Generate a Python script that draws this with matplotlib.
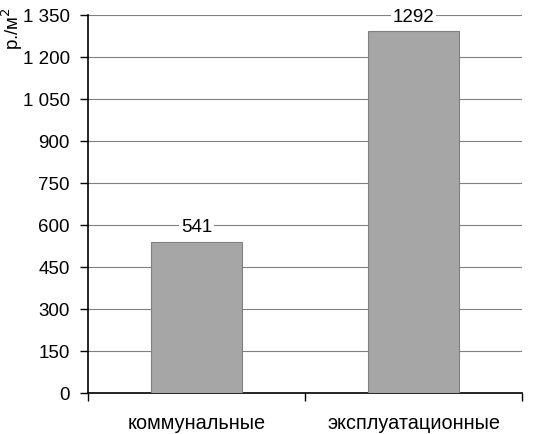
import matplotlib.pyplot as plt
from matplotlib.ticker import FuncFormatter, FixedLocator

categories = ["коммунальные", "эксплуатационные"]
values = [541, 1292]
y_ticks = [0, 150, 300, 450, 600, 750, 900, 1050, 1200, 1350]

plt.rcParams["font.family"] = ["Liberation Sans", "DejaVu Sans"]

fig = plt.figure(figsize=(5.34, 4.34), dpi=100)
ax = fig.add_axes([88 / 534, 1 - 393 / 434, (522 - 88) / 534, (393 - 15) / 434])

x = list(range(len(categories)))
ax.bar(x, values, width=0.42, color="#a6a6a6", edgecolor="#808080", linewidth=0.8, zorder=3)

for xi, v in zip(x, values):
    ax.text(xi, v + 20, str(v), ha="center", va="bottom", fontsize=13.5, zorder=4,
            bbox=dict(facecolor="white", edgecolor="none", pad=1.5))

ax.set_xlim(-0.5, len(categories) - 0.5)
ax.set_ylim(0, 1350)
ax.set_yticks(y_ticks)
ax.yaxis.set_major_formatter(FuncFormatter(lambda v, p: f"{int(v):,}".replace(",", " ")))
ax.yaxis.grid(True, color="#808080", linewidth=0.8, zorder=0)

ax.set_xticks(x)
ax.set_xticklabels(categories)
ax.xaxis.set_minor_locator(FixedLocator([i - 0.5 for i in range(len(categories) + 1)]))
ax.tick_params(axis="x", which="major", length=0, pad=15, labelsize=14.3)
ax.tick_params(axis="x", which="minor", length=6, width=1, direction="out")
ax.tick_params(axis="y", length=6, width=1, direction="out", labelsize=13.5, pad=7)

for s in ["top", "right"]:
    ax.spines[s].set_visible(False)
for s in ["left", "bottom"]:
    ax.spines[s].set_linewidth(1.2)

fig.text(12 / 534, 1 - 28 / 434, "р./м$^2$", rotation=90, ha="center", va="center", fontsize=13.5)

fig.savefig("out.png", dpi=100)
